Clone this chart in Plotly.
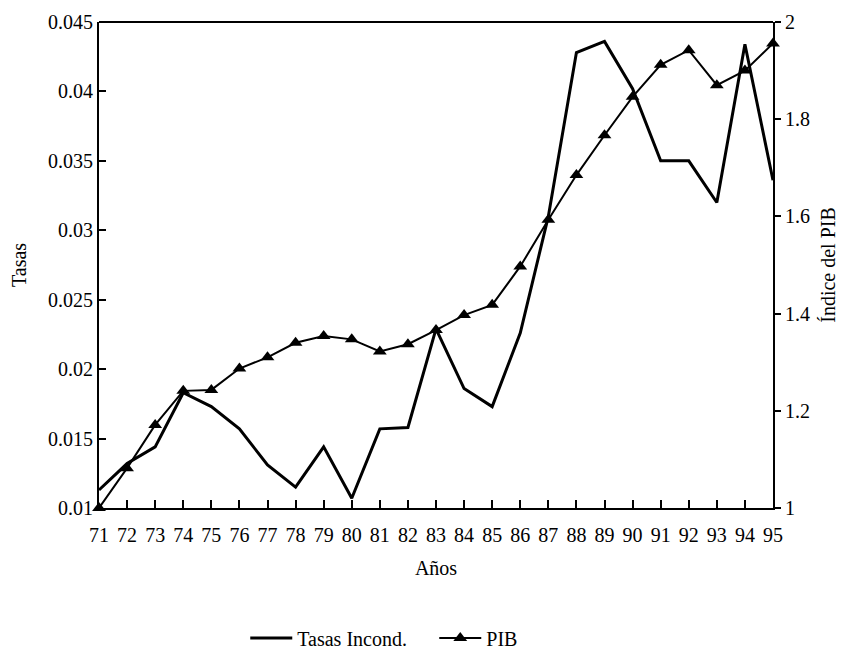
import plotly.graph_objects as go

years = list(range(71, 96))
tasas = [0.0113, 0.0132, 0.0144, 0.0183, 0.0173, 0.0157, 0.0131, 0.0115, 0.0144, 0.0107,
         0.0157, 0.0158, 0.0229, 0.0186, 0.0173, 0.0226, 0.0310, 0.0428, 0.0436, 0.0402,
         0.0350, 0.0350, 0.0320, 0.0434, 0.0336]
pib = [1.000, 1.082, 1.171, 1.241, 1.243, 1.287, 1.310, 1.340, 1.354, 1.347,
       1.322, 1.337, 1.366, 1.397, 1.418, 1.497, 1.593, 1.685, 1.767, 1.846,
       1.912, 1.942, 1.870, 1.900, 1.956]
left_ticks = [0.01, 0.015, 0.02, 0.025, 0.03, 0.035, 0.04, 0.045]
left_labels = ["0.01", "0.015", "0.02", "0.025", "0.03", "0.035", "0.04", "0.045"]
right_ticks = [1, 1.2, 1.4, 1.6, 1.8, 2]
right_labels = ["1", "1.2", "1.4", "1.6", "1.8", "2"]

FONT = "Liberation Serif"
FS = 20

fig = go.Figure()
fig.add_trace(go.Scatter(x=years, y=tasas, mode="lines", name="Tasas Incond.",
                         line=dict(color="black", width=3), cliponaxis=False))
fig.add_trace(go.Scatter(x=years, y=pib, mode="lines+markers", name="PIB", yaxis="y2",
                         line=dict(color="black", width=2),
                         marker=dict(symbol="triangle-up", size=12, color="black"),
                         cliponaxis=False))

# page body has an 8px default margin, so the figure is sized/offset to compensate
fig.update_layout(
    width=836, height=645,
    margin=dict(l=91, r=71, t=14, b=145, autoexpand=False),
    paper_bgcolor="white", plot_bgcolor="white",
    font=dict(family=FONT, size=FS, color="black"),
    showlegend=True,
    legend=dict(orientation="h", x=0.217, xanchor="left", y=-0.2675, yanchor="middle",
                font=dict(family=FONT, size=FS), tracegroupgap=0,
                itemwidth=42, entrywidth=132, entrywidthmode="pixels"),
    xaxis=dict(range=[71, 95], tickvals=years, ticktext=[str(y) for y in years],
               automargin=False,
               showgrid=False, zeroline=False, showline=True, linecolor="black", linewidth=2,
               ticks="inside", ticklen=8, tickcolor="black", tickwidth=1.5,
               ticklabelstandoff=8,
               title=dict(text="Años", standoff=16, font=dict(size=FS)),
               tickfont=dict(size=FS)),
    yaxis=dict(range=[0.01, 0.045], tickvals=left_ticks, ticktext=left_labels,
               automargin=False,
               showgrid=False, zeroline=False, showline=True, linecolor="black", linewidth=2,
               ticks="inside", ticklen=7, tickcolor="black", tickwidth=1.5,
               title=dict(text="Tasas", standoff=18, font=dict(size=FS)),
               tickfont=dict(size=FS)),
    yaxis2=dict(range=[1, 2], tickvals=right_ticks, ticktext=right_labels,
                overlaying="y", side="right", automargin=False,
                showgrid=False, zeroline=False, showline=True, linecolor="black", linewidth=2,
                ticks="outside", ticklen=6, tickcolor="black", tickwidth=1.5,
                title=dict(text="Índice del PIB", standoff=12, font=dict(size=FS)),
                tickfont=dict(size=FS)),
    shapes=[dict(type="line", xref="paper", yref="paper", x0=0, x1=1, y0=1, y1=1,
                 line=dict(color="black", width=2))],
)

fig.write_html("out.html")
